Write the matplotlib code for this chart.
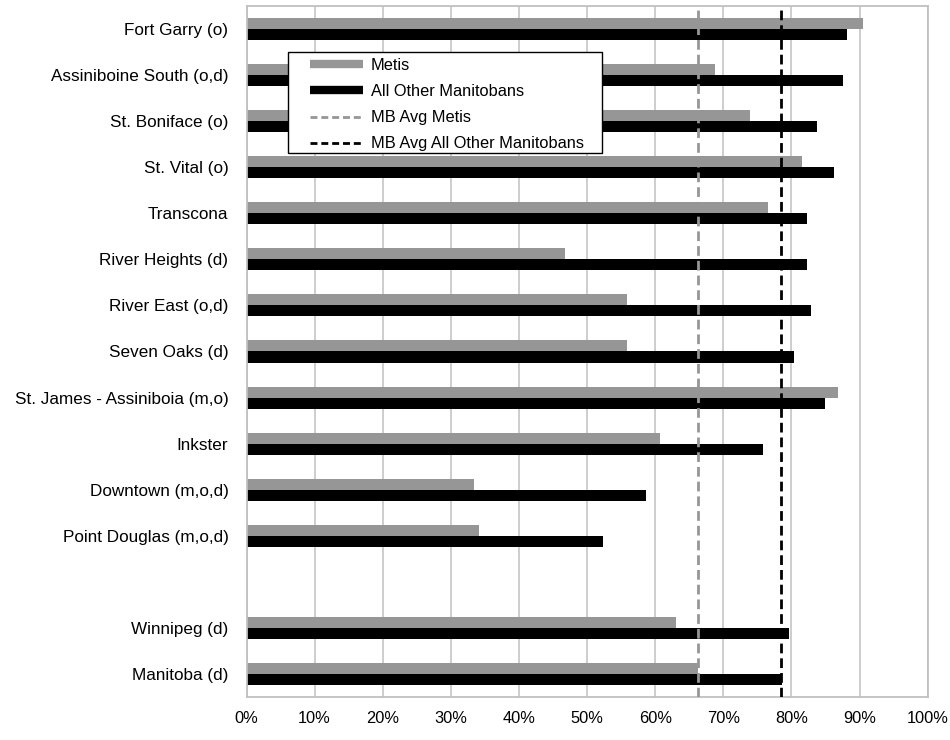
import numpy as np
import matplotlib
matplotlib.use("Agg")
import matplotlib.pyplot as plt
from matplotlib.lines import Line2D
from matplotlib.patches import Rectangle
from matplotlib.ticker import FuncFormatter

plt.rcParams['font.family'] = ['Liberation Sans', 'DejaVu Sans']

# regions, top to bottom (None = empty spacer row)
regions = ['Fort Garry (o)', 'Assiniboine South (o,d)', 'St. Boniface (o)', 'St. Vital (o)',
           'Transcona', 'River Heights (d)', 'River East (o,d)', 'Seven Oaks (d)',
           'St. James - Assiniboia (m,o)', 'Inkster', 'Downtown (m,o,d)',
           'Point Douglas (m,o,d)', None, 'Winnipeg (d)', 'Manitoba (d)']

metis = [90.5, 68.8, 73.9, 81.6, 76.5, 46.8, 55.9, 55.9, 86.9, 60.7, 33.4, 34.1,
         None, 63.1, 66.3]
others = [88.1, 87.6, 83.8, 86.2, 82.3, 82.3, 82.8, 80.4, 84.9, 75.8, 58.6, 52.3,
          None, 79.7, 78.6]

avg_metis = 66.3
avg_others = 78.5

x_ticks = np.arange(0, 101, 10)

gray = '#969696'
grid_c = '#c0c0c0'

W, H = 950, 740
ax_l, ax_b, ax_w, ax_h = 246.5, 43, 681.2, 691

fig = plt.figure(figsize=(9.5, 7.4), dpi=100)
ax = fig.add_axes([ax_l / W, ax_b / H, ax_w / W, ax_h / H])


def ax_x(px):
    return (px - ax_l) / ax_w


def ax_y(py):
    return (H - ax_b - py) / ax_h


pos = [i for i, r in enumerate(regions) if r is not None]
m_vals = [metis[i] for i in pos]
o_vals = [others[i] for i in pos]
h = 0.24
ax.barh(np.array(pos) - h / 2, m_vals, height=h, color=gray, zorder=2)
ax.barh(np.array(pos) + h / 2, o_vals, height=h, color='black', zorder=2)

ax.axvline(avg_metis, color=gray, lw=2.0, linestyle=(0, (3.5, 1.8)), zorder=3)
ax.axvline(avg_others, color='black', lw=2.0, linestyle=(0, (3.5, 1.8)), zorder=3)

ax.set_xlim(0, 100)
ax.set_ylim(len(regions) - 0.5, -0.5)
ax.set_yticks(pos)
ax.set_yticklabels([regions[i] for i in pos], fontsize=12.3)
ax.set_xticks(x_ticks)
ax.xaxis.set_major_formatter(FuncFormatter(lambda v, p: f'{v:.0f}%'))
ax.tick_params(axis='x', length=0, pad=10, labelsize=11.8)
ax.tick_params(axis='y', length=0, pad=13)
ax.xaxis.grid(True, color=grid_c, lw=1.1, zorder=0)
ax.set_axisbelow(True)
for s in ax.spines.values():
    s.set_color(grid_c)
    s.set_linewidth(1.3)

# legend box drawn by hand so the padding matches
ax.add_patch(Rectangle((ax_x(288), ax_y(153)), ax_x(602) - ax_x(288), ax_y(52.5) - ax_y(153),
                       transform=ax.transAxes, facecolor='white', edgecolor='black',
                       lw=1.0, zorder=4, clip_on=False))

handles = [
    Line2D([0], [0], color=gray, lw=6, solid_capstyle='butt'),
    Line2D([0], [0], color='black', lw=6, solid_capstyle='butt'),
    Line2D([0], [0], color=gray, lw=2.0, linestyle=(0, (2.5, 1.4))),
    Line2D([0], [0], color='black', lw=2.0, linestyle=(0, (2.5, 1.4))),
]
labels = ['Metis', 'All Other Manitobans', 'MB Avg Metis', 'MB Avg All Other Manitobans']
leg = ax.legend(handles, labels, loc='upper left',
                bbox_to_anchor=(ax_x(310), ax_y(58)),
                borderaxespad=0, borderpad=0, fontsize=11.8,
                handlelength=3.25, handletextpad=0.45, labelspacing=0.68,
                frameon=False)
leg.set_zorder(5)

fig.savefig('out.png', dpi=100)
